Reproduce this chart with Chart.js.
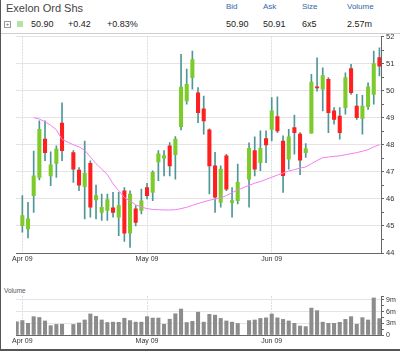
<!DOCTYPE html>
<html>
<head>
<meta charset="utf-8">
<script src="https://cdn.jsdelivr.net/npm/chart.js@4.4.0/dist/chart.umd.min.js"></script>
<style>
  html, body { margin: 0; padding: 0; background: #fff; }
  #wrap { position: relative; width: 400px; height: 351px; overflow: hidden; font-family: 'Liberation Sans', Arial, sans-serif; }
  #frame { position: absolute; left: 0; top: 0; width: 399px; height: 349px; border-left: 1px solid #555; border-bottom: 2px solid #555; pointer-events: none; }
  .t { position: absolute; white-space: nowrap; line-height: 1; }
  .title { left: 6px; top: 3px; font-size: 11px; color: #444; }
  .hd { top: 3px; font-size: 8px; color: #3366aa; }
  .val { top: 20px; font-size: 9px; color: #222; }
  #sep { position: absolute; left: 0; top: 33px; width: 400px; height: 1px; background: #d0d0d0; }
  #plus { position: absolute; left: 4px; top: 21px; width: 5px; height: 5px; border: 1px solid #999; font-size: 6px; line-height: 5px; text-align: center; color: #666; }
  #swatch { position: absolute; left: 17px; top: 21px; width: 6px; height: 6px; background: #b4e2a4; }
  .vol { left: 4px; top: 288px; font-size: 6.5px; color: #555; }
  #price { position: absolute; left: 0; top: 30px; }
  #volume { position: absolute; left: 0; top: 285px; }
</style>
</head>
<body>
<div id="wrap">
  <div class="t title">Exelon Ord Shs</div>
  <div class="t hd" style="left:226px">Bid</div>
  <div class="t hd" style="left:263px">Ask</div>
  <div class="t hd" style="left:302px">Size</div>
  <div class="t hd" style="left:347px">Volume</div>
  <div id="plus">+</div>
  <div id="swatch"></div>
  <div class="t val" style="left:31px">50.90</div>
  <div class="t val" style="left:68px">+0.42</div>
  <div class="t val" style="left:107px">+0.83%</div>
  <div class="t val" style="left:226px">50.90</div>
  <div class="t val" style="left:263px">50.91</div>
  <div class="t val" style="left:302px">6x5</div>
  <div class="t val" style="left:347px">2.57m</div>
  <div id="sep"></div>
  <canvas id="price" width="400" height="240"></canvas>
  <div class="t vol">Volume</div>
  <canvas id="volume" width="400" height="66"></canvas>
  <div id="frame"></div>
</div>
<script>
// one slot per weekday, 30 Mar 2009 .. 26 Jun 2009; null = market closed / no candle
const open = [
  null, 45.01, 44.89, 46.12, 46.79, 48.21, 46.85, 47.31, 48.80, null,
  47.71, 47.06, 46.45, 47.31, 45.96, 45.50, 45.57, 45.67, 45.32, 46.30,
  44.73, 45.63, 45.57, 46.42, 46.24, 47.37, 47.50, 47.96, 47.63, 48.67,
  49.62, 50.48, 49.92, 49.33, 48.55, 47.22, 45.87, 47.59, 45.86, 45.93,
  null, 46.73, 47.78, 47.34, 48.23, 48.57, 49.04, 48.14, 47.47, 48.63,
  48.39, 47.71, 48.43, 50.13, 50.05, 50.42, 49.25, 49.06, 49.37, 50.81,
  49.43, 48.97, 49.41, 49.86, 51.22
];
const high = [
  null, 46.12, 45.87, 47.77, 48.88, 48.88, 47.74, 47.96, 49.55, null,
  47.78, 47.16, 48.14, 47.41, 46.51, 46.18, 46.18, 46.24, 46.24, 46.42,
  46.30, 45.75, 46.36, 46.57, 47.04, 47.78, 47.78, 48.08, 48.30, 51.34,
  50.80, 51.46, 50.11, 49.80, 48.59, 47.72, 47.22, 47.65, 46.42, 47.29,
  null, 48.07, 48.29, 48.51, 48.51, 49.74, 49.77, 48.33, 48.57, 49.10,
  48.45, 48.04, 50.60, 51.21, 50.84, 50.48, 49.37, 49.37, 50.66, 50.97,
  49.86, 49.83, 50.29, 51.46, 51.58
];
const low = [
  null, 44.77, 44.56, 45.50, 46.70, 47.41, 46.49, 46.79, 47.41, null,
  46.61, 46.30, 45.26, 45.32, 45.26, 45.20, 45.20, 45.32, 44.64, 44.43,
  44.21, 45.00, 45.44, 46.00, 45.93, 46.67, 46.85, 46.85, 46.73, 48.55,
  49.50, 50.05, 48.82, 48.39, 46.18, 45.50, 45.69, 46.30, 45.32, 45.81,
  null, 45.69, 46.85, 47.04, 47.34, 48.14, 48.45, 46.24, 47.10, 47.65,
  46.89, 47.53, 48.43, 49.98, 49.25, 48.45, 48.76, 48.21, 49.13, 49.86,
  48.94, 48.39, 49.31, 49.50, 50.54
];
const close = [
  null, 45.38, 45.26, 46.85, 48.57, 47.71, 47.26, 47.84, 47.78, null,
  47.10, 46.51, 46.94, 45.69, 46.12, 45.69, 45.97, 45.50, 45.75, 44.73,
  46.18, 45.13, 45.93, 46.12, 46.98, 47.66, 47.60, 47.22, 48.21, 50.13,
  50.23, 51.15, 49.19, 48.88, 47.22, 46.06, 47.10, 46.36, 45.94, 46.61,
  null, 47.87, 47.10, 47.87, 47.99, 49.25, 48.51, 46.86, 48.29, 48.45,
  47.43, 47.86, 50.32, 50.10, 50.56, 49.19, 48.94, 48.45, 50.48, 49.92,
  49.00, 49.43, 50.14, 51.00, 50.90
];
const movingAvg = [
  null, null, null, 49.00, 48.95, 48.85, 48.72, 48.55, 48.20, null,
  48.00, 47.92, 47.80, 47.55, 47.30, 47.10, 46.90, 46.56, 46.30, 46.05,
  45.92, 45.78, 45.70, 45.64, 45.61, 45.60, 45.59, 45.59, 45.60, 45.64,
  45.69, 45.76, 45.83, 45.89, 45.95, 45.99, 46.04, 46.12, 46.23, 46.33,
  null, 46.50, 46.58, 46.64, 46.72, 46.80, 46.88, 46.96, 47.03, 47.08,
  47.14, 47.18, 47.30, 47.42, 47.52, 47.55, 47.57, 47.59, 47.63, 47.67,
  47.71, 47.76, 47.82, 47.92, 48.00
];
// millions of shares
const volume = [
  3.4, 3.7, 3.0, 4.7, 4.5, 3.6, 2.4, 2.7, 2.75, null,
  2.7, 3.1, 3.85, 5.4, 4.8, 3.85, 3.2, 3.3, 3.25, 4.3,
  3.7, 3.3, 3.3, 4.7, 4.35, 4.35, 2.75, 4.05, 5.45, 6.65,
  3.2, 3.5, 5.85, 3.3, 5.3, 5.1, 4.25, 3.6, 3.3, 2.95,
  null, 3.7, 3.85, 4.25, 4.4, 5.4, 4.4, 4.0, 3.6, 3.0,
  2.3, 2.15, 6.9, 6.25, 3.3, 3.0, 3.0, 3.25, 4.0, 4.7,
  2.75, 4.45, 3.85, 9.5, 4.2
];
const monthTicks = [1, 23, 45];
const monthLabels = ['Apr 09', 'May 09', 'Jun 09'];
const priceTicks = [44, 44.5, 45, 45.5, 46, 46.5, 47, 47.5, 48, 48.5, 49, 49.5, 50, 50.5, 51, 51.5, 52];
const volumeTicks = [0, 1.5, 3, 4.5, 6, 7.5, 9, 10];

const UP = '#7ccb2b';
const DOWN = '#ff1f1f';
const WICK = '#4f9696';
const GRID = '#e6e2e6';
const AXIS = '#666';
const FONT = "'Liberation Sans', Arial, sans-serif";
const XMIN = -0.12, XMAX = 64.28;

const bodies = [], wicks = [], bodyColors = [], maPoints = [], volPoints = [];
close.forEach((c, i) => {
  if (c === null) return;
  bodies.push({ x: i, y: [open[i], c] });
  wicks.push({ x: i, y: [low[i], high[i]] });
  bodyColors.push(c >= open[i] ? UP : DOWN);
});
movingAvg.forEach((v, i) => { if (v !== null) maPoints.push({ x: i, y: v }); });
volume.forEach((v, i) => { if (v !== null) volPoints.push({ x: i, y: v }); });

const monthAxis = (height) => ({
  type: 'linear', min: XMIN, max: XMAX, offset: false,
  afterBuildTicks: s => { s.ticks = monthTicks.map(v => ({ value: v })); },
  afterFit: s => { s.height = height; },
  ticks: {
    callback: v => monthLabels[monthTicks.indexOf(v)],
    font: { family: FONT, size: 7 },
    color: '#333', padding: 2, maxRotation: 0, autoSkip: false
  },
  grid: { color: '#dcdcdc', drawTicks: false, offset: false },
  border: { color: AXIS, dash: [2, 1] }
});

const rightAxis = (min, max, tickValues, label, isMajor, fontSize) => ({
  position: 'right', min: min, max: max,
  afterBuildTicks: s => { s.ticks = tickValues.map(v => ({ value: v })); },
  afterFit: s => { s.width = 19; },
  ticks: {
    autoSkip: false,
    callback: v => isMajor(v) ? label(v) : '',
    font: { family: FONT, size: fontSize },
    color: '#333', padding: 2
  },
  grid: {
    color: c => (isMajor(c.tick.value) && c.tick.value > min) ? GRID : 'rgba(0,0,0,0)',
    tickColor: AXIS, tickLength: 3
  },
  border: { color: AXIS }
});

new Chart(document.getElementById('price'), {
  type: 'bar',
  data: {
    datasets: [
      { type: 'line', data: maPoints, borderColor: '#f27ef2', borderWidth: 1, pointRadius: 0, spanGaps: true, order: 0 },
      { data: bodies, backgroundColor: bodyColors, barThickness: 3.4, grouped: false, minBarLength: 1, order: 1 },
      { data: wicks, backgroundColor: WICK, barThickness: 1, grouped: false, order: 2 }
    ]
  },
  options: {
    responsive: false, animation: false, devicePixelRatio: 1,
    layout: { padding: { left: 16, top: 5, right: 0, bottom: 0 } },
    plugins: { legend: { display: false }, tooltip: { enabled: false } },
    scales: {
      x: monthAxis(17),
      y: rightAxis(44, 52, priceTicks, v => String(v), v => Number.isInteger(v), 7.5)
    }
  }
});

new Chart(document.getElementById('volume'), {
  type: 'bar',
  data: {
    datasets: [
      { data: volPoints, backgroundColor: '#8c8c8c', barThickness: 3.4 }
    ]
  },
  options: {
    responsive: false, animation: false, devicePixelRatio: 1,
    layout: { padding: { left: 16, top: 11, right: 0, bottom: 0 } },
    plugins: { legend: { display: false }, tooltip: { enabled: false } },
    scales: {
      x: monthAxis(16),
      y: rightAxis(0, 10, volumeTicks, v => v === 0 ? '0' : v + 'm', v => v % 3 === 0, 7)
    }
  }
});
</script>
</body>
</html>
